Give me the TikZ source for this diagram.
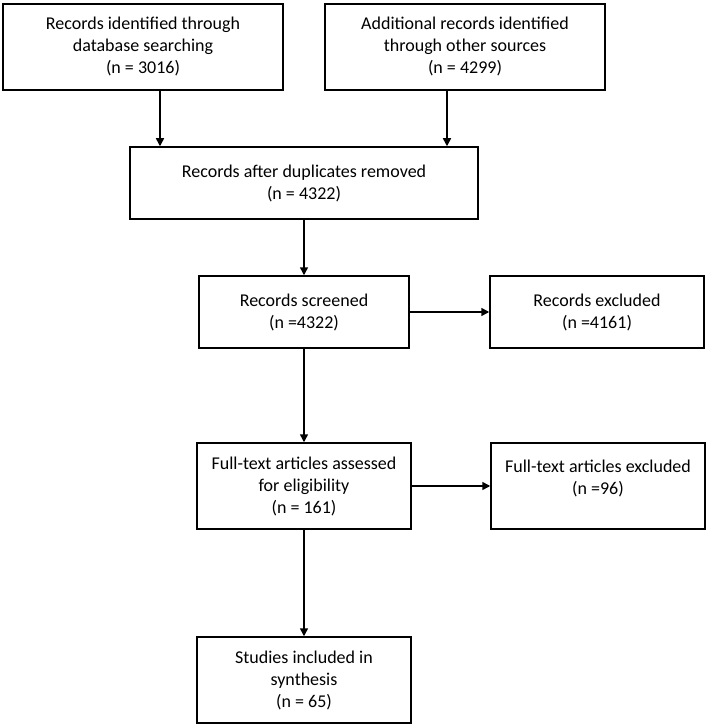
\documentclass[tikz,border=0pt]{standalone}
\usepackage{fontspec}
\setmainfont{Carlito}
\usetikzlibrary{arrows.meta}

\begin{document}
\begin{tikzpicture}[x=1pt, y=-1pt,
  box/.style={draw, line width=1.5pt, align=center, inner sep=0pt,
    font=\fontsize{18}{22}\selectfont},
  arr/.style={-{Triangle[length=8pt,width=8pt]}, line width=1.5pt}]
  % Keep the page the size of the flow chart
  \useasboundingbox (0,0) rectangle (709,727);

  % Identification
  \node[box, minimum width=280pt, minimum height=86pt] (db) at (143,47)
    {Records identified through\\database searching\\(n = 3016)};
  \node[box, minimum width=280pt, minimum height=86pt] (other) at (465,47)
    {Additional records identified\\through other sources\\(n = 4299)};

  % Screening
  \node[box, minimum width=348pt, minimum height=72pt] (dup) at (304,183)
    {Records after duplicates removed\\(n = 4322)};
  \node[box, minimum width=210pt, minimum height=72pt] (screen) at (304,312)
    {Records screened\\(n =4322)};
  \node[box, minimum width=214pt, minimum height=72pt] (excl) at (597,312)
    {Records excluded\\(n =4161)};

  % Eligibility
  \node[box, minimum width=214pt, minimum height=86pt] (full) at (304,486)
    {Full-text articles assessed\\for eligibility\\(n = 161)};
  \node[box, minimum width=214pt, minimum height=86pt, text depth=18pt] (fullexcl) at (598,486)
    {Full-text articles excluded\\(n =96)};

  % Included
  \node[box, minimum width=214pt, minimum height=86pt] (incl) at (304,680)
    {Studies included in\\synthesis\\(n = 65)};

  % Arrows
  \draw[arr] ([xshift=17pt]db.south) -- ([xshift=17pt]db.south |- dup.north);
  \draw[arr] ([xshift=-18pt]other.south) -- ([xshift=-18pt]other.south |- dup.north);
  \draw[arr] (dup) -- (screen);
  \draw[arr] (screen.east) -- (screen.east -| excl.west);
  \draw[arr] (screen) -- (full);
  \draw[arr] (full.east) -- (full.east -| fullexcl.west);
  \draw[arr] (full) -- (incl);
\end{tikzpicture}
\end{document}
